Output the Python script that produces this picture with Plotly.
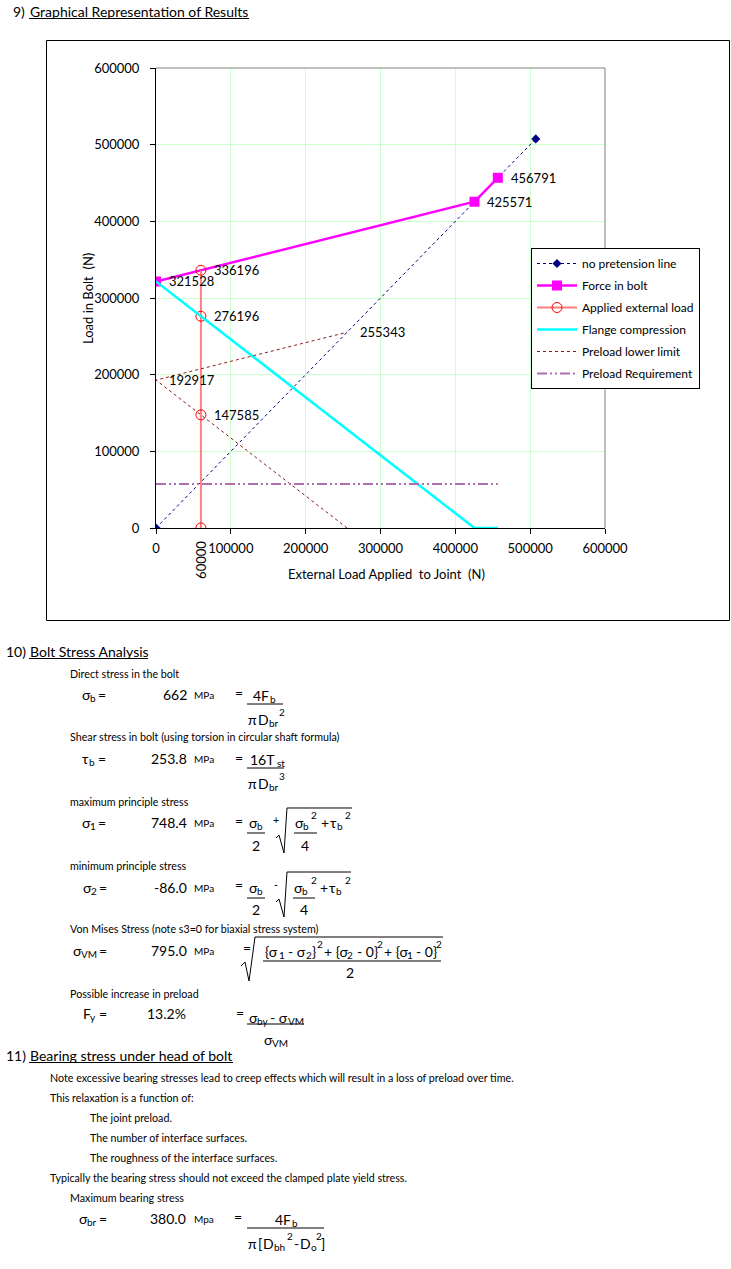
import plotly.graph_objects as go

W, H = 731, 1269
FONT = "Lato, Noto Sans, sans-serif"

# ---------------- chart data ----------------
np_x = [0, 507500]
np_y = [0, 507500]
bolt_x = [0, 425571, 456791]
bolt_y = [321528, 425571, 456791]
ext_x = [60000, 60000, 60000, 60000]
ext_y = [0, 147585, 276196, 336196]
flange_x = [0, 425571, 456791]
flange_y = [321528, 0, 0]
lower_x = [255343, 0, 255343]
lower_y = [0, 192917, 255343]
req_x = [0, 456791]
req_y = [57400, 57400]

label_x = [60000, 0, 60000, 60000, 0, 255343, 425571, 456791]
label_y = [336196, 321528, 276196, 147585, 192917, 255343, 425571, 456791]
applied_load = 60000

tick_vals = [0, 100000, 200000, 300000, 400000, 500000, 600000]

# ---------------- report values ----------------
sigma_b = "662"
tau_b = "253.8"
sigma_1 = "748.4"
sigma_2 = "-86.0"
sigma_vm = "795.0"
f_y = "13.2%"
sigma_br = "380.0"


def X(px):
    return px / W


def Y(py):
    return 1 - py / H


fig = go.Figure()

fig.add_trace(go.Scatter(
    x=np_x, y=np_y, name="no pretension line", mode="lines+markers", legendgroup="a",
    line=dict(color="#000080", width=1, dash="dot"),
    marker=dict(symbol="diamond", size=7, color="#000080")))
fig.add_trace(go.Scatter(
    x=bolt_x, y=bolt_y, name="Force in bolt", mode="lines+markers", legendgroup="b",
    line=dict(color="#FF00FF", width=2.5),
    marker=dict(symbol="square", size=10, color="#FF00FF")))
fig.add_trace(go.Scatter(
    x=ext_x, y=ext_y, name="Applied external load", mode="lines+markers", legendgroup="c",
    line=dict(color="#FF7F7F", width=2),
    marker=dict(symbol="circle-open", size=10, color="#FF0000", line=dict(width=1))))
fig.add_trace(go.Scatter(
    x=flange_x, y=flange_y, name="Flange compression", mode="lines", legendgroup="d",
    line=dict(color="#00FFFF", width=2.5)))
fig.add_trace(go.Scatter(
    x=lower_x, y=lower_y, name="Preload lower limit", mode="lines", legendgroup="e",
    line=dict(color="#8B1A1A", width=1, dash="dot")))
fig.add_trace(go.Scatter(
    x=req_x, y=req_y, name="Preload Requirement", mode="lines", legendgroup="f",
    line=dict(color="#B070B0", width=2, dash="10px,3px,2px,3px,2px,3px")))

ann = []
shapes = []

# data labels
for lx, ly in zip(label_x, label_y):
    ann.append(dict(xref="x", yref="y", x=lx, y=ly, text=str(ly), showarrow=False,
                    xanchor="left", yanchor="middle", xshift=11,
                    font=dict(family=FONT, size=13, color="black")))
ann.append(dict(xref="x", yref="paper", x=applied_load, y=Y(560), text=str(applied_load),
                textangle=-90, showarrow=False, xanchor="center", yanchor="middle",
                font=dict(family=FONT, size=13, color="black")))

# axis titles
ann.append(dict(xref="paper", yref="paper", x=X(88), y=Y(299), text="Load in Bolt  (N)",
                textangle=-90, showarrow=False, xanchor="center", yanchor="middle",
                font=dict(family=FONT, size=13, color="black")))
ann.append(dict(xref="paper", yref="paper", x=X(386), y=Y(574),
                text="External Load Applied  to Joint  (N)",
                showarrow=False, xanchor="center", yanchor="middle",
                font=dict(family=FONT, size=13, color="black")))

# plot area top/right border (gray)
shapes.append(dict(type="line", xref="x domain", yref="y domain", x0=0, x1=1, y0=1, y1=1,
                   line=dict(color="#808080", width=1)))
shapes.append(dict(type="line", xref="x domain", yref="y domain", x0=1, x1=1, y0=0, y1=1,
                   line=dict(color="#808080", width=1)))
# chart outer frame
shapes.append(dict(type="rect", xref="paper", yref="paper", x0=X(46.5), x1=X(729.5), y0=Y(40.5), y1=Y(620.5),
                   line=dict(color="black", width=1)))

BIG = 14
SMALL = 10.7
UNIT = 10
SUBS = 10


def t(x, y, s, size=BIG, anchor="left"):
    ann.append(dict(xref="paper", yref="paper", x=X(x), y=Y(y), text=s, showarrow=False,
                    xanchor=anchor, yanchor="middle",
                    font=dict(family=FONT, size=size, color="black")))


def sub(x, y, s):
    t(x, y + 4, s, SUBS)


def sup(x, y, s):
    t(x, y - 7, s, SUBS)


def hline(x0, x1, y):
    shapes.append(dict(type="line", xref="paper", yref="paper", x0=X(x0), x1=X(x1),
                       y0=Y(y), y1=Y(y), line=dict(color="black", width=1)))


def path(pts):
    d = "M " + " L ".join(f"{X(a):.5f},{Y(b):.5f}" for a, b in pts)
    shapes.append(dict(type="path", xref="paper", yref="paper", path=d,
                       line=dict(color="black", width=1)))


# section 9
t(11, 11, "9)")
t(28, 11, "Graphical Representation of Results")
hline(29, 249, 18.5)

# section 10
t(4, 651, "10)")
t(28, 651, "Bolt Stress Analysis")
hline(29, 148, 658.5)

t(68, 673, "Direct stress in the bolt", SMALL)
t(80, 694, "σ"); sub(88, 694, "b"); t(96, 694, "=")
t(189, 694, sigma_b, anchor="right")
t(192, 695, "MPa", UNIT)
t(233, 692, "=")
t(251, 695, "4F"); sub(268, 695, "b")
hline(247, 283, 704)
t(246, 719, "π"); t(256, 719, "D"); sub(267, 719, "br"); sup(277, 719, "2")

t(68, 737, "Shear stress in bolt (using torsion in circular shaft formula)", SMALL)
t(80, 758, "τ"); sub(87, 758, "b"); t(96, 758, "=")
t(189, 758, tau_b, anchor="right")
t(192, 759, "MPa", UNIT)
t(233, 757, "=")
t(248, 759, "16T"); sub(275, 759, "st")
hline(247, 284, 768)
t(246, 783, "π"); t(256, 783, "D"); sub(267, 783, "br"); sup(277, 783, "3")

t(68, 801, "maximum principle stress", SMALL)
t(80, 822, "σ"); sub(88, 822, "1"); t(96, 822, "=")
t(189, 822, sigma_1, anchor="right")
t(192, 823, "MPa", UNIT)
t(233, 820, "=")
t(247, 822, "σ"); sub(255, 822, "b")
hline(247, 265, 833)
t(256, 845, "2", anchor="center")
t(271, 819, "+", SMALL)
path([(276, 838), (279, 835), (284, 853), (287, 808), (352, 808)])
t(293, 822, "σ"); sub(301, 822, "b"); sup(309, 822, "2")
hline(294, 317, 833)
t(305, 845, "4", anchor="center")
t(319, 822, "+"); t(328, 822, "τ"); sub(335, 822, "b"); sup(343, 822, "2")

t(68, 865, "minimum principle stress", SMALL)
t(81, 887, "σ"); sub(89, 887, "2"); t(97, 887, "=")
t(189, 887, sigma_2, anchor="right")
t(192, 888, "MPa", UNIT)
t(233, 884, "=")
t(247, 887, "σ"); sub(255, 887, "b")
hline(247, 265, 898)
t(256, 909, "2", anchor="center")
t(272, 884, "-", SMALL)
path([(276, 902), (279, 899), (284, 917), (287, 872), (351, 872)])
t(292, 887, "σ"); sub(300, 887, "b"); sup(309, 887, "2")
hline(293, 315, 898)
t(304, 909, "4", anchor="center")
t(318, 887, "+"); t(327, 887, "τ"); sub(334, 887, "b"); sup(343, 887, "2")

t(68, 929, "Von Mises Stress (note s3=0 for biaxial stress system)", SMALL)
t(71, 950, "σ"); sub(79, 950, "VM"); t(97, 950, "=")
t(189, 950, sigma_vm, anchor="right")
t(192, 951, "MPa", UNIT)
t(241, 947, "=")
path([(241, 966), (245, 962), (249, 981), (255, 937), (443, 937)])
t(263, 951, "{σ"); sub(277, 951, "1"); t(286, 951, "- σ"); sub(304, 951, "2")
t(310, 951, "}"); sup(315, 951, "2"); t(322, 951, "+ {σ"); sub(345, 951, "2")
t(355, 951, "- 0}"); sup(375, 951, "2"); t(382, 951, "+ {σ"); sub(405, 951, "1")
t(414, 951, "- 0}"); sup(434, 951, "2")
hline(263, 441, 961)
t(350, 972, "2", anchor="center")

t(68, 993, "Possible increase in preload", SMALL)
t(81, 1013, "F"); sub(88, 1013, "y"); t(97, 1013, "=")
t(188, 1013, f_y, anchor="right")
t(234, 1012, "=")
t(247, 1017, "σ"); sub(255, 1017, "by"); t(268, 1017, "- σ"); sub(286, 1017, "VM")
hline(247, 304, 1024)
t(262, 1039, "σ"); sub(270, 1039, "VM")

# section 11
t(4, 1055, "11)")
t(28, 1055, "Bearing stress under head of bolt")
hline(29, 233, 1062.5)
t(48, 1077, "Note excessive bearing stresses lead to creep effects which will result in a loss of preload over time.", SMALL)
t(48, 1097, "This relaxation is a function of:", SMALL)
t(88, 1117, "The joint preload.", SMALL)
t(88, 1137, "The number of interface surfaces.", SMALL)
t(88, 1157, "The roughness of the interface surfaces.", SMALL)
t(48, 1177, "Typically the bearing stress should not exceed the clamped plate yield stress.", SMALL)
t(68, 1197, "Maximum bearing stress", SMALL)
t(77, 1218, "σ"); sub(85, 1218, "br"); t(97, 1218, "=")
t(188, 1218, sigma_br, anchor="right")
t(192, 1219, "Mpa", UNIT)
t(232, 1216, "=")
t(273, 1219, "4F"); sub(290, 1219, "b")
hline(247, 324, 1228)
t(246, 1243, "π"); t(256, 1243, "["); t(261, 1243, "D"); sub(272, 1243, "bh"); sup(285, 1243, "2")
t(292, 1243, "-"); t(298, 1243, "D"); sub(309, 1243, "o"); sup(314, 1243, "2"); t(319, 1243, "]")

axis_common = dict(
    range=[0, 600000], tickvals=tick_vals, ticktext=[str(v) for v in tick_vals],
    showgrid=True, gridcolor="#CCFFCC", gridwidth=1, zeroline=False,
    showline=True, linecolor="black", linewidth=1,
    ticks="outside", ticklen=5, tickcolor="black", automargin=False,
    tickfont=dict(family=FONT, size=13, color="black"), fixedrange=True,
)

fig.update_layout(
    template="none",
    width=W, height=H, autosize=False,
    margin=dict(l=0, r=0, t=0, b=0, pad=0, autoexpand=False),
    paper_bgcolor="white", plot_bgcolor="white",
    font=dict(family=FONT, color="black"),
    xaxis=dict(domain=[X(156), X(605)], ticklabelstandoff=3, **axis_common),
    yaxis=dict(domain=[Y(528), Y(68)], ticklabelstandoff=8, **axis_common),
    showlegend=True,
    legend=dict(x=X(531), y=Y(248), xanchor="left", yanchor="top",
                bgcolor="white", bordercolor="black", borderwidth=1,
                font=dict(family=FONT, size=12, color="black"),
                tracegroupgap=3, itemwidth=40),
    annotations=ann, shapes=shapes,
)

fig.write_html("out.html", config={"displayModeBar": False},
               post_script="document.body.style.margin='0';document.body.style.overflow='hidden';")
